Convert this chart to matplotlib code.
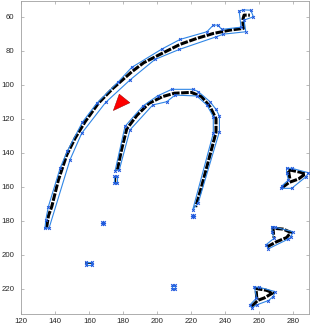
import matplotlib.pyplot as plt

plt.rcParams['font.family'] = ['Liberation Sans', 'DejaVu Sans']

# skeleton lines (black)
arc_x = [134.9, 136.0, 137.9, 141.8, 146.7, 151.6, 157.5, 165.3, 174.0, 184.9, 192.0, 201.6,
         213.4, 223.2, 232.9, 242.8, 250.6, 250.2, 251.0, 254.4]
arc_y = [184.0, 177.0, 171.8, 156.1, 141.4, 131.5, 121.8, 110.9, 102.0, 92.4, 87.0, 82.1,
         76.2, 72.7, 69.8, 67.8, 66.8, 61.9, 59.0, 59.0]
arch_x = [176.5, 179.0, 182.0, 188.0, 195.0, 203.0, 210.0, 220.0, 226.0, 231.0, 234.5, 234.5,
          230.0, 226.0, 222.5]
arch_y = [150.0, 138.0, 126.0, 118.0, 111.0, 107.0, 105.0, 104.5, 107.0, 113.0, 120.0, 128.0,
          145.0, 160.0, 172.0]
tri1_sx = [273.5, 277.5, 283.0, 287.0, 284.0, 277.0, 278.0]
tri1_sy = [160.5, 157.5, 155.5, 152.5, 151.5, 150.0, 156.0]
tri2_sx = [264.5, 270.0, 276.0, 278.5, 274.0, 268.0, 268.5]
tri2_sy = [195.5, 192.5, 190.0, 187.0, 185.0, 184.5, 190.0]
tri3_sx = [255.5, 259.0, 263.0, 268.0, 264.0, 258.0, 258.5]
tri3_sy = [230.5, 227.0, 225.5, 222.5, 221.0, 220.0, 226.0]

# boundary polygons (blue)
arc_px = [133.9, 134.4, 135.9, 142.8, 147.1, 155.9, 164.4, 177.1, 184.9, 202.6, 213.4, 229.1,
          232.9, 235.5, 237.9, 249.2, 248.1, 250.6, 254.9, 256.5, 251.0, 252.0, 238.8, 234.5,
          212.9, 198.6, 183.9, 169.6, 155.5, 148.6, 136.3]
arc_py = [184.5, 179.6, 171.8, 149.2, 139.0, 122.1, 110.9, 98.2, 89.8, 79.0, 73.3, 68.8,
          64.9, 64.9, 67.4, 66.1, 56.6, 55.9, 56.1, 60.0, 61.9, 68.8, 70.2, 71.8,
          79.2, 85.1, 97.2, 110.4, 128.6, 144.3, 184.5]
arch_px = [175.2, 181.0, 191.5, 200.2, 208.5, 221.2, 224.1, 231.0, 234.5, 236.5, 236.5, 224.1,
           220.8, 232.9, 232.9, 229.1, 223.2, 210.4, 205.5, 197.3, 183.9, 177.6]
arch_py = [150.5, 124.5, 112.5, 106.5, 102.7, 102.7, 104.1, 110.0, 114.5, 118.4, 127.6, 169.4,
           173.7, 128.6, 118.8, 111.9, 106.6, 106.1, 110.0, 111.9, 126.6, 150.2]
tri1_px = [276.0, 279.0, 288.8, 287.5, 279.0, 272.8, 273.2, 277.1, 276.0]
tri1_py = [149.2, 149.2, 151.8, 154.1, 161.0, 161.0, 159.6, 156.1, 152.0]
tri2_px = [267.3, 269.2, 279.6, 278.6, 276.7, 265.3, 263.8, 268.5, 267.5]
tri2_py = [183.5, 183.9, 186.5, 189.8, 191.0, 196.6, 194.3, 190.5, 186.5]
tri3_px = [257.1, 259.7, 269.2, 268.2, 265.3, 258.5, 255.5, 254.5, 258.3]
tri3_py = [219.2, 219.2, 221.8, 224.7, 227.1, 229.6, 231.5, 229.6, 225.6]

# small blobs
blob1_x = [174.5, 176.0, 176.0, 174.5]
blob1_y = [153.5, 153.5, 158.0, 158.0]
blob2_x = [167.3, 168.5, 168.5, 167.3]
blob2_y = [181.0, 181.0, 182.2, 182.2]
blob3_x = [158.0, 161.5, 161.5, 158.0]
blob3_y = [204.5, 204.5, 206.0, 206.0]
blob4_x = [208.5, 210.5, 210.5, 208.5]
blob4_y = [218.0, 218.0, 220.0, 220.0]
blob5_x = [220.2, 221.5, 221.5, 220.2]
blob5_y = [176.8, 176.8, 178.0, 178.0]

# red marker
red_x = [177.6, 183.9, 174.1]
red_y = [105.5, 110.6, 115.2]

fig = plt.figure(figsize=(3.16, 3.30), dpi=100)
ax = fig.add_axes([0.0674, 0.0485, 0.9095, 0.9494])

blue = '#2f86e6'
mblue = '#1d55dd'

skeletons = [(arc_x, arc_y), (arch_x, arch_y), (tri1_sx, tri1_sy), (tri2_sx, tri2_sy), (tri3_sx, tri3_sy)]
for sx, sy in skeletons:
    ax.plot(sx, sy, color='black', lw=2.2, dashes=(2.5, 0.5), solid_capstyle='butt', zorder=2)

polys = [(arc_px, arc_py), (arch_px, arch_py), (tri1_px, tri1_py), (tri2_px, tri2_py),
         (tri3_px, tri3_py), (blob1_x, blob1_y), (blob2_x, blob2_y), (blob3_x, blob3_y),
         (blob4_x, blob4_y), (blob5_x, blob5_y)]
for px, py in polys:
    ax.plot(px + px[:1], py + py[:1], color=blue, lw=0.8, zorder=3)
    ax.plot(px, py, ls='none', marker='x', ms=2.0, mew=0.7, color=mblue, zorder=4)

# short black bits inside small blobs
ax.plot(blob3_x[:2], [205.2, 205.2], color='black', lw=1.2, zorder=2)
ax.plot([175.2, 175.2], [154.5, 157.0], color='black', lw=1.0, zorder=2)

ax.fill(red_x, red_y, color='#ff0000', ec='#800000', lw=0.3, zorder=5)

ax.set_xlim(120, 289)
ax.set_ylim(235, 50.5)
ax.set_xticks(range(120, 290, 20))
ax.set_yticks(range(60, 235, 20))
ax.tick_params(direction='in', length=2.5, width=0.5, colors='#a0a0a0', labelcolor='#262626',
               labelsize=5.6, top=True, right=True, pad=3)
ax.tick_params(axis='y', pad=5)
for s in ax.spines.values():
    s.set_color('#a0a0a0')
    s.set_linewidth(0.6)

fig.savefig('out.png', dpi=100)
